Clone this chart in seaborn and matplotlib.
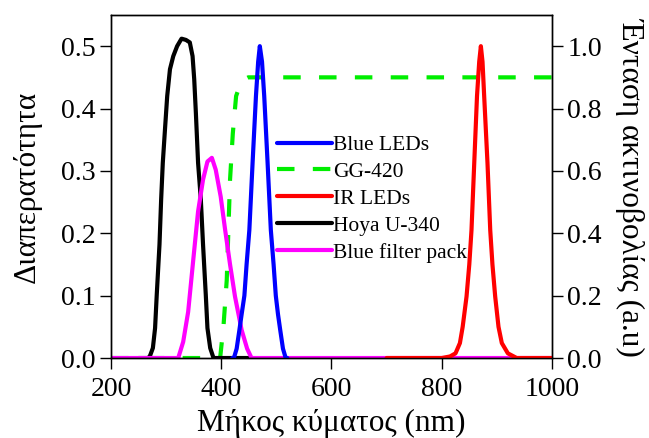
import numpy as np
import matplotlib
matplotlib.use("Agg")
import matplotlib.pyplot as plt
import seaborn as sns

# values
# left axis: transmittance of filters
gg420_nm = [200, 398, 404, 410, 416, 421, 427, 435, 442, 449, 1000]
gg420_t = [0.0, 0.0, 0.05, 0.125, 0.286, 0.36, 0.42, 0.44, 0.447, 0.45, 0.45]

hoya_nm = [250, 268, 271, 276, 280, 283, 288, 291, 294, 298, 302, 307, 313, 320, 328,
           336, 343, 348, 351, 354, 358, 363, 367, 372, 375, 380, 386, 450]
hoya_t = [0.0, 0.0, 0.004, 0.016, 0.048, 0.101, 0.182, 0.254, 0.313, 0.367, 0.42,
          0.463, 0.484, 0.50, 0.512, 0.51, 0.506, 0.484, 0.447, 0.393, 0.313, 0.254,
          0.182, 0.101, 0.048, 0.016, 0.0, 0.0]

pack_nm = [200, 322, 331, 340, 349, 358, 367, 375, 383, 390, 399, 407, 416, 425,
           437, 447, 455, 1000]
pack_t = [0.0, 0.0, 0.026, 0.074, 0.155, 0.235, 0.286, 0.315, 0.321, 0.302, 0.259,
          0.206, 0.15, 0.0985, 0.045, 0.015, 0.0, 0.0]

# right axis: normalised LED intensity
blue_nm = [420, 423, 428, 433, 437, 442, 446, 451, 457, 463, 467, 470, 474, 478,
           484, 490, 495, 499, 503, 507, 512, 517, 520]
blue_i = [0.0, 0.0, 0.03, 0.09, 0.14, 0.20, 0.30, 0.41, 0.63, 0.84, 0.95, 1.0,
          0.95, 0.84, 0.63, 0.41, 0.30, 0.20, 0.14, 0.09, 0.03, 0.0, 0.0]

ir_nm = [700, 800, 815, 825, 833, 838, 845, 850, 854, 859, 864, 868, 871, 874,
         877, 883, 888, 892, 897, 903, 909, 920, 936, 1000]
ir_i = [0.0, 0.0, 0.005, 0.015, 0.048, 0.10, 0.197, 0.30, 0.41, 0.626, 0.84, 0.95,
        1.0, 0.95, 0.84, 0.626, 0.41, 0.30, 0.197, 0.10, 0.048, 0.015, 0.0, 0.0]

x_ticks = [200, 400, 600, 800, 1000]
left_ticks = [0.0, 0.1, 0.2, 0.3, 0.4, 0.5]
right_ticks = [0.0, 0.2, 0.4, 0.6, 0.8, 1.0]

sns.set_style("ticks", {"axes.edgecolor": "black", "xtick.color": "black",
                        "ytick.color": "black", "text.color": "black",
                        "axes.labelcolor": "black"})
plt.rcParams["font.family"] = ["Liberation Serif", "DejaVu Serif"]

fig = plt.figure(figsize=(6.49, 4.38), dpi=100)
ax = fig.add_axes([0.171, 0.1826, 0.6795, 0.7832])
ax2 = ax.twinx()

lw = 3
sns.lineplot(x=gg420_nm, y=gg420_t, ax=ax, color="#00ee00", lw=lw,
             linestyle=(0, (4.2, 4.4)), label="GG-420", legend=False, estimator=None)
sns.lineplot(x=hoya_nm, y=hoya_t, ax=ax, color="black", lw=lw,
             label="Hoya U-340", legend=False, estimator=None)
sns.lineplot(x=pack_nm, y=pack_t, ax=ax, color="#ff00ff", lw=lw,
             label="Blue filter pack", legend=False, estimator=None)
sns.lineplot(x=blue_nm, y=blue_i, ax=ax2, color="#0000ff", lw=lw,
             label="Blue LEDs", legend=False, estimator=None)
sns.lineplot(x=ir_nm, y=ir_i, ax=ax2, color="#ff0000", lw=lw,
             label="IR LEDs", legend=False, estimator=None)

ax.set_xlim(200, 1000)
ax.set_ylim(0, 0.55)
ax2.set_ylim(0, 1.1)
ax.set_xticks(x_ticks)
ax.set_yticks(left_ticks)
ax2.set_yticks(right_ticks)
ax.set_yticklabels([f"{v:.1f}" for v in left_ticks])
ax2.set_yticklabels([f"{v:.1f}" for v in right_ticks])

for a in (ax, ax2):
    a.tick_params(direction="out", length=8, width=1, labelsize=20, pad=3)
    for s in a.spines.values():
        s.set_visible(True)
        s.set_linewidth(1.0)
ax.tick_params(axis="x", pad=6)

ax.set_xlabel("Μήκος κύματος (nm)", fontsize=22.5, labelpad=5)
ax.set_ylabel("Διαπερατότητα", fontsize=22.5, labelpad=14)
ax2.set_ylabel("Ένταση ακτινοβολίας (a.u)", fontsize=22.5, rotation=270,
               va="bottom", labelpad=10)

h1, l1 = ax.get_legend_handles_labels()
h2, l2 = ax2.get_legend_handles_labels()
lookup = dict(zip(l1 + l2, h1 + h2))
order = ["Blue LEDs", "GG-420", "IR LEDs", "Hoya U-340", "Blue filter pack"]
fig.legend([lookup[k] for k in order], order, loc="upper left",
           bbox_to_anchor=(277 / 649, 1 - 135 / 438), frameon=False, fontsize=15.5,
           handlelength=2.55, handletextpad=0.05, labelspacing=0.32,
           borderpad=0, borderaxespad=0)

fig.savefig("out.png", dpi=100)
